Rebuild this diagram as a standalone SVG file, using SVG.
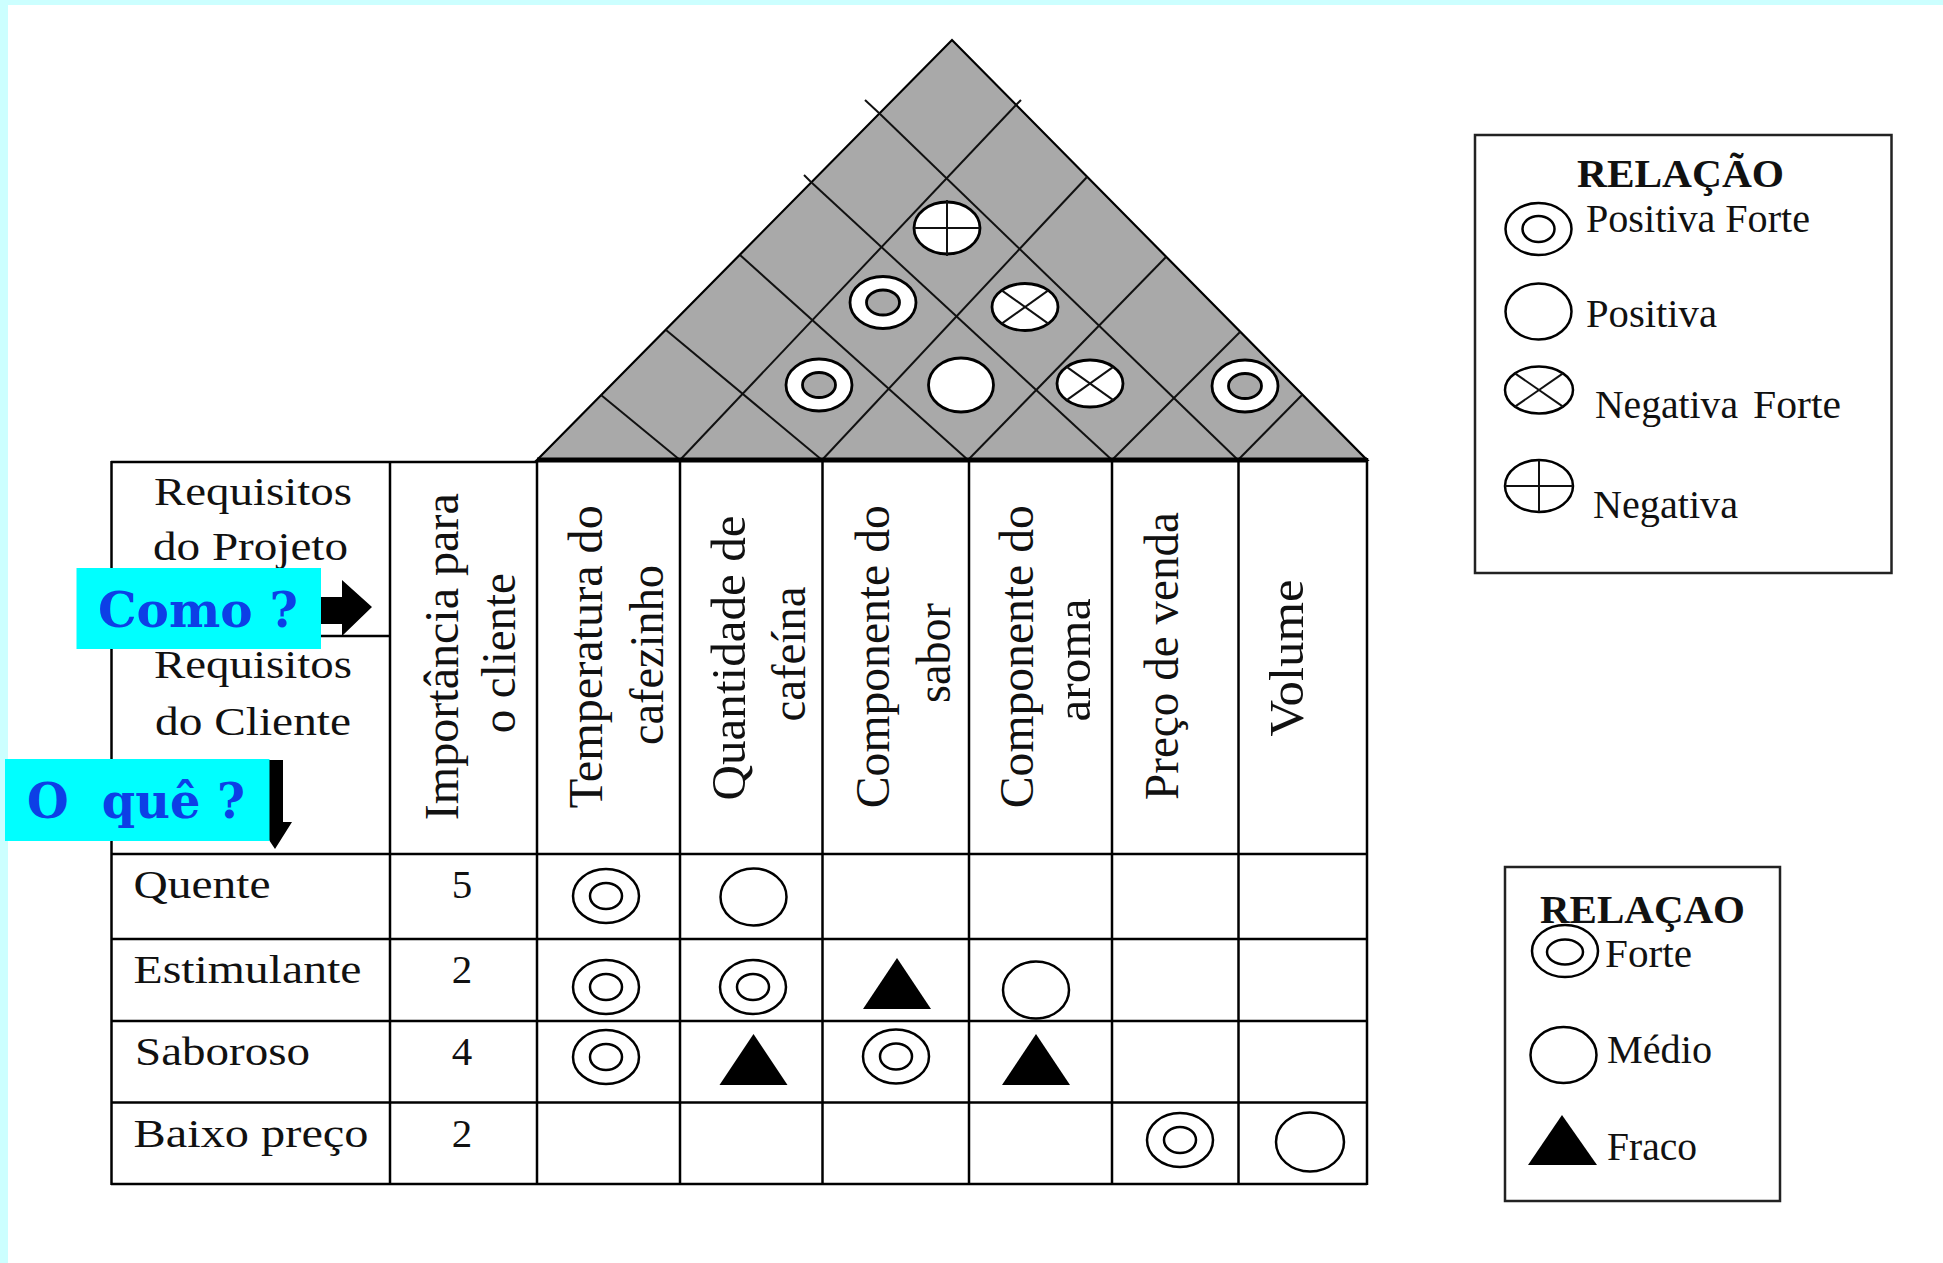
<svg xmlns="http://www.w3.org/2000/svg" width="1943" height="1263" viewBox="0 0 1943 1263">
<style>
.ln{stroke:#000;stroke-width:2.5;fill:none}
.gl{stroke:#111;stroke-width:2;fill:none}
.t{font-family:"Liberation Serif","Times New Roman",serif;font-size:41px;fill:#111}
.tv{font-family:"Liberation Serif","Times New Roman",serif;font-size:47.5px;fill:#111}
.b{font-weight:bold}
.cybox{fill:#00ffff}
.cq{font-family:"DejaVu Serif",serif;font-weight:bold;font-size:48px;fill:#0d3fe6}
.so{fill:none;stroke:#000;stroke-width:2.5}
.sw{fill:#fff;stroke:#000;stroke-width:2.8}
.sg{fill:#a9a9a9;stroke:#000;stroke-width:2.8}
.tri{fill:#000}
</style>
<defs>
<g id="pf"><ellipse class="so" rx="33" ry="27"/><ellipse class="so" rx="16" ry="13"/></g>
<g id="md"><ellipse class="so" rx="33" ry="28.5"/></g>
<g id="fr"><polygon class="tri" points="-34,26 0,-25 34,26"/></g>
<g id="rpf"><ellipse class="sw" rx="33" ry="26"/><ellipse class="sg" rx="16.5" ry="12.5"/></g>
<g id="rnf"><ellipse class="sw" rx="33" ry="23.5"/><line class="gl" x1="-23.3" y1="-16.6" x2="23.3" y2="16.6"/><line class="gl" x1="-23.3" y1="16.6" x2="23.3" y2="-16.6"/></g>
</defs>
<rect x="0" y="0" width="1943" height="1263" fill="#fff"/>
<rect x="0" y="0" width="1943" height="5" fill="#ccffff"/>
<rect x="0" y="0" width="8" height="1263" fill="#ccffff"/>

<g id="roof">
<polygon points="537,460 952,40 1367,460" fill="#a9a9a9" stroke="#000" stroke-width="2.2"/>
<line class="gl" x1="680" y1="460" x2="1016" y2="105"/>
<line class="gl" x1="822" y1="460" x2="1087" y2="177"/>
<line class="gl" x1="968" y1="460" x2="1166" y2="257"/>
<line class="gl" x1="1112" y1="460" x2="1240" y2="332"/>
<line class="gl" x1="1238" y1="460" x2="1302" y2="395"/>
<line class="gl" x1="680" y1="460" x2="601" y2="395"/>
<line class="gl" x1="822" y1="460" x2="666" y2="330"/>
<line class="gl" x1="968" y1="460" x2="740" y2="255"/>
<line class="gl" x1="1112" y1="460" x2="811" y2="182"/>
<line class="gl" x1="1238" y1="460" x2="879" y2="113"/>
<line class="gl" x1="879" y1="113" x2="865" y2="100"/>
<line class="gl" x1="811" y1="182" x2="804" y2="175"/>
<line class="gl" x1="1016" y1="105" x2="1021" y2="100"/>
<line x1="537" y1="460" x2="1367" y2="460" stroke="#000" stroke-width="5"/>
</g>

<g id="roof-symbols">
<use href="#rpf" x="819" y="385"/>
<ellipse class="sw" cx="961" cy="385" rx="32.5" ry="27"/>
<use href="#rnf" x="1090" y="383.5"/>
<use href="#rpf" x="1245" y="386"/>
<use href="#rpf" x="883" y="302.5"/>
<use href="#rnf" x="1025" y="307"/>
<g id="neg-roof"><ellipse class="sw" cx="947" cy="228" rx="33" ry="26"/><line class="gl" x1="914" y1="228" x2="980" y2="228"/><line class="gl" x1="947" y1="200" x2="947" y2="256"/></g>
</g>

<g id="table">
<line class="ln" x1="111" y1="462" x2="537" y2="462"/>
<line class="ln" x1="111" y1="636" x2="390" y2="636"/>
<line class="ln" x1="111" y1="854" x2="1367" y2="854"/>
<line class="ln" x1="111" y1="939" x2="1367" y2="939"/>
<line class="ln" x1="111" y1="1021" x2="1367" y2="1021"/>
<line class="ln" x1="111" y1="1102.5" x2="1367" y2="1102.5"/>
<line class="ln" x1="111" y1="1184" x2="1367" y2="1184"/>
<line class="ln" x1="111.5" y1="461" x2="111.5" y2="1185"/>
<line class="ln" x1="390" y1="461" x2="390" y2="1185"/>
<line class="ln" x1="537" y1="461" x2="537" y2="1185"/>
<line class="ln" x1="680" y1="461" x2="680" y2="1185"/>
<line class="ln" x1="822.5" y1="461" x2="822.5" y2="1185"/>
<line class="ln" x1="969" y1="461" x2="969" y2="1185"/>
<line class="ln" x1="1112" y1="461" x2="1112" y2="1185"/>
<line class="ln" x1="1238.5" y1="461" x2="1238.5" y2="1185"/>
<line class="ln" x1="1367" y1="458" x2="1367" y2="1185"/>
</g>

<g id="corner-header">
<text class="t" x="154" y="505" textLength="198" lengthAdjust="spacingAndGlyphs">Requisitos</text>
<text class="t" x="153" y="560" textLength="195" lengthAdjust="spacingAndGlyphs">do Projeto</text>
<text class="t" x="154" y="678" textLength="198" lengthAdjust="spacingAndGlyphs">Requisitos</text>
<text class="t" x="155" y="735" textLength="196" lengthAdjust="spacingAndGlyphs">do Cliente</text>
</g>

<g id="col-importancia">
<text class="tv" text-anchor="middle" transform="translate(458,656.7) rotate(-90)" textLength="327" lengthAdjust="spacingAndGlyphs">Importância para</text>
<text class="tv" text-anchor="middle" transform="translate(515,653.3) rotate(-90)" textLength="160" lengthAdjust="spacingAndGlyphs">o cliente</text>
</g>
<g id="col-temperatura">
<text class="tv" text-anchor="middle" transform="translate(601.5,656.7) rotate(-90)" textLength="303" lengthAdjust="spacingAndGlyphs">Temperatura do</text>
<text class="tv" text-anchor="middle" transform="translate(663,655) rotate(-90)" textLength="180" lengthAdjust="spacingAndGlyphs">cafezinho</text>
</g>
<g id="col-quantidade">
<text class="tv" text-anchor="middle" transform="translate(745,658) rotate(-90)" textLength="285" lengthAdjust="spacingAndGlyphs">Quantidade de</text>
<text class="tv" text-anchor="middle" transform="translate(805,654) rotate(-90)" textLength="135" lengthAdjust="spacingAndGlyphs">cafeína</text>
</g>
<g id="col-sabor">
<text class="tv" text-anchor="middle" transform="translate(889,656.7) rotate(-90)" textLength="303" lengthAdjust="spacingAndGlyphs">Componente do</text>
<text class="tv" text-anchor="middle" transform="translate(950,653) rotate(-90)" textLength="100" lengthAdjust="spacingAndGlyphs">sabor</text>
</g>
<g id="col-aroma">
<text class="tv" text-anchor="middle" transform="translate(1033,656.7) rotate(-90)" textLength="303" lengthAdjust="spacingAndGlyphs">Componente do</text>
<text class="tv" text-anchor="middle" transform="translate(1090,660) rotate(-90)" textLength="123" lengthAdjust="spacingAndGlyphs">aroma</text>
</g>
<g id="col-preco">
<text class="tv" text-anchor="middle" transform="translate(1178,656) rotate(-90)" textLength="288" lengthAdjust="spacingAndGlyphs">Preço de venda</text>
</g>
<g id="col-volume">
<text class="tv" text-anchor="middle" transform="translate(1303,658) rotate(-90)" textLength="157" lengthAdjust="spacingAndGlyphs">Volume</text>
</g>

<g id="row-quente">
<text class="t" x="133.5" y="898" textLength="137" lengthAdjust="spacingAndGlyphs">Quente</text>
<text class="t" x="462" y="898" text-anchor="middle">5</text>
<use href="#pf" x="606" y="896"/>
<use href="#md" x="753.5" y="897"/>
</g>
<g id="row-estimulante">
<text class="t" x="133.5" y="983" textLength="228" lengthAdjust="spacingAndGlyphs">Estimulante</text>
<text class="t" x="462" y="983" text-anchor="middle">2</text>
<use href="#pf" x="606" y="987"/>
<use href="#pf" x="753" y="987"/>
<use href="#fr" x="897" y="983"/>
<use href="#md" x="1036" y="990"/>
</g>
<g id="row-saboroso">
<text class="t" x="135" y="1065" textLength="175" lengthAdjust="spacingAndGlyphs">Saboroso</text>
<text class="t" x="462" y="1065" text-anchor="middle">4</text>
<use href="#pf" x="606" y="1057"/>
<use href="#fr" x="753.5" y="1059"/>
<use href="#pf" x="896" y="1056.5"/>
<use href="#fr" x="1036" y="1059"/>
</g>
<g id="row-baixo-preco">
<text class="t" x="133.5" y="1147" textLength="235" lengthAdjust="spacingAndGlyphs">Baixo preço</text>
<text class="t" x="462" y="1147" text-anchor="middle">2</text>
<use href="#pf" x="1180" y="1140"/>
<ellipse class="so" cx="1310" cy="1142" rx="34" ry="29.5"/>
</g>

<g id="connectors">
<polygon points="290,597 342,597 342,580 372,607 342,636 342,624 290,624" fill="#000"/>
<polygon points="264,760 283,760 283,822 292,822 275,849 257,822 264,822" fill="#000"/>
</g>

<g id="label-como">
<rect class="cybox" x="76.5" y="568" width="244.5" height="81"/>
<text class="cq" x="98" y="627" textLength="200" lengthAdjust="spacingAndGlyphs">Como ?</text>
</g>
<g id="label-oque">
<rect class="cybox" x="5" y="759" width="264.5" height="82"/>
<text class="cq" x="27" y="818" textLength="218" lengthAdjust="spacingAndGlyphs" xml:space="preserve">O  quê ?</text>
</g>

<g id="legend-roof">
<rect x="1475" y="135" width="416.5" height="438" fill="#fff" stroke="#222" stroke-width="2.5"/>
<text class="t b" x="1577" y="187" font-size="37" textLength="207" lengthAdjust="spacingAndGlyphs">RELAÇÃO</text>
<ellipse class="so" cx="1538.5" cy="229" rx="33" ry="26"/>
<ellipse class="so" cx="1538.5" cy="229" rx="16" ry="13"/>
<text class="t" x="1586" y="232" textLength="224" lengthAdjust="spacingAndGlyphs">Positiva Forte</text>
<ellipse class="so" cx="1538.5" cy="311.5" rx="33" ry="28"/>
<text class="t" x="1586" y="327" textLength="131" lengthAdjust="spacingAndGlyphs">Positiva</text>
<ellipse class="so" cx="1539" cy="390" rx="34" ry="23.5"/>
<line class="gl" x1="1515" y1="373.4" x2="1563" y2="406.6"/>
<line class="gl" x1="1515" y1="406.6" x2="1563" y2="373.4"/>
<text class="t" x="1595" y="418" textLength="143" lengthAdjust="spacingAndGlyphs">Negativa</text>
<text class="t" x="1753" y="418" textLength="88" lengthAdjust="spacingAndGlyphs">Forte</text>
<ellipse class="so" cx="1539" cy="486" rx="34" ry="26"/>
<line class="gl" x1="1505" y1="486" x2="1573" y2="486"/>
<line class="gl" x1="1539" y1="460" x2="1539" y2="512"/>
<text class="t" x="1593" y="518" textLength="145" lengthAdjust="spacingAndGlyphs">Negativa</text>
</g>

<g id="legend-matrix">
<rect x="1505" y="867" width="275" height="334" fill="#fff" stroke="#222" stroke-width="2.5"/>
<text class="t b" x="1540" y="923" font-size="40" textLength="205" lengthAdjust="spacingAndGlyphs">RELAÇAO</text>
<ellipse class="so" cx="1565" cy="951" rx="33" ry="26"/>
<ellipse class="so" cx="1565" cy="952" rx="18" ry="12.5"/>
<text class="t" x="1605" y="967" textLength="87" lengthAdjust="spacingAndGlyphs">Forte</text>
<ellipse class="so" cx="1563.5" cy="1055" rx="33" ry="28"/>
<text class="t" x="1607" y="1063" textLength="105" lengthAdjust="spacingAndGlyphs">Médio</text>
<polygon class="tri" points="1528,1165 1562,1115 1597,1165"/>
<text class="t" x="1607" y="1160" textLength="90" lengthAdjust="spacingAndGlyphs">Fraco</text>
</g>
</svg>
